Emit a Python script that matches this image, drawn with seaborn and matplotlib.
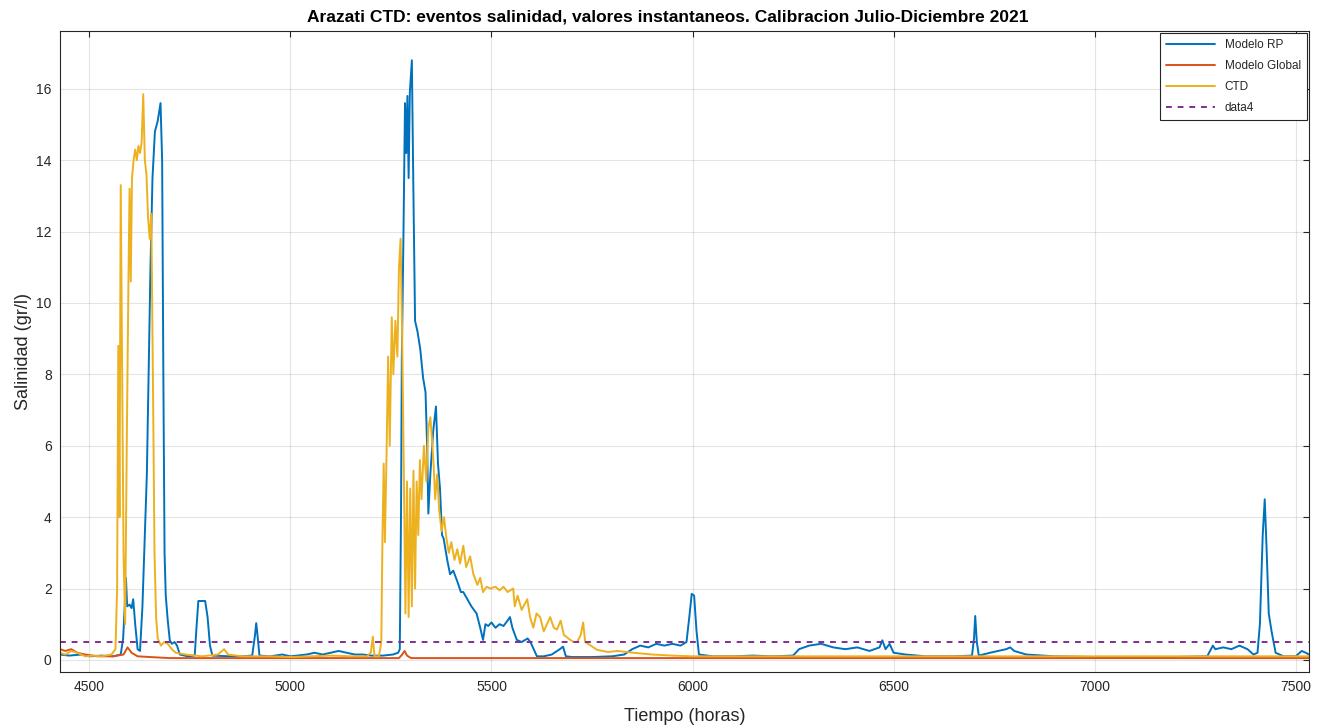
import numpy as np
import pandas as pd
import matplotlib
matplotlib.use("Agg")
import matplotlib.pyplot as plt
import seaborn as sns

# ---- Modelo RP (hours, g/l) ----
rp_t = [4427, 4450, 4480, 4500, 4530, 4560, 4578, 4584, 4588, 4591, 4594, 4600, 4605, 4609,
        4614, 4620, 4626, 4632, 4638, 4643, 4648, 4652, 4657, 4663, 4670, 4677, 4681, 4684,
        4687, 4690, 4695, 4700, 4705, 4712, 4718, 4725, 4745, 4762, 4767, 4771, 4788, 4794,
        4800, 4806, 4850, 4880, 4905, 4912, 4915, 4919, 4923, 4950, 4980, 5000, 5040, 5060,
        5080, 5100, 5120, 5140, 5160, 5180, 5200, 5230, 5255, 5268, 5272, 5275, 5277, 5281,
        5285, 5288, 5291, 5294, 5297, 5302, 5306, 5310, 5316, 5323, 5330, 5336, 5340, 5343,
        5348, 5355, 5362, 5367, 5372, 5377, 5381, 5390, 5397, 5405, 5415, 5424, 5430, 5440,
        5450, 5463, 5472, 5479, 5485, 5492, 5500, 5510, 5520, 5530, 5540, 5546, 5552, 5563,
        5575, 5590, 5597, 5605, 5613, 5630, 5650, 5670, 5678, 5685, 5700, 5750, 5800, 5830,
        5850, 5870, 5890, 5910, 5930, 5950, 5970, 5985, 5992, 5998, 6004, 6010, 6016, 6050,
        6100, 6150, 6200, 6250, 6265, 6290, 6320, 6350, 6380, 6410, 6440, 6465, 6472, 6480,
        6490, 6500, 6530, 6580, 6650, 6695, 6700, 6703, 6707, 6712, 6740, 6760, 6780, 6790,
        6800, 6830, 6900, 7000, 7100, 7200, 7280, 7294, 7300, 7320, 7340, 7360, 7380, 7395,
        7405, 7411, 7418, 7423, 7428, 7433, 7440, 7450, 7470, 7500, 7515, 7525, 7533]
rp_v = [0.15, 0.12, 0.15, 0.10, 0.12, 0.10, 0.15, 0.6, 1.5, 2.3, 1.5, 1.55, 1.45, 1.7,
        1.0, 0.3, 0.25, 1.5, 3.5, 5.2, 8.4, 11.0, 13.5, 14.8, 15.1, 15.6, 14.0, 8.0,
        3.0, 1.8, 1.1, 0.55, 0.45, 0.5, 0.4, 0.15, 0.10, 0.12, 1.0, 1.65, 1.65, 1.2,
        0.4, 0.12, 0.10, 0.10, 0.12, 0.7, 1.03, 0.6, 0.12, 0.10, 0.15, 0.10, 0.15, 0.2,
        0.15, 0.2, 0.25, 0.2, 0.15, 0.15, 0.12, 0.12, 0.15, 0.2, 0.3, 4.0, 8.4, 11.8,
        15.6, 14.2, 15.8, 13.5, 15.9, 16.8, 13.0, 9.5, 9.2, 8.7, 7.9, 7.5, 6.0, 4.1,
        5.2, 6.4, 7.1, 5.5, 4.8, 3.5, 3.4, 2.8, 2.4, 2.5, 2.2, 1.9, 1.9, 1.7,
        1.5, 1.3, 0.9, 0.56, 1.0, 0.95, 1.05, 0.9, 1.0, 0.95, 1.1, 1.2, 0.9, 0.56,
        0.5, 0.6, 0.5, 0.3, 0.10, 0.10, 0.15, 0.3, 0.37, 0.10, 0.08, 0.08, 0.10, 0.15,
        0.3, 0.4, 0.35, 0.45, 0.4, 0.45, 0.4, 0.5, 1.2, 1.85, 1.8, 0.8, 0.15, 0.10,
        0.10, 0.12, 0.10, 0.12, 0.3, 0.4, 0.45, 0.35, 0.3, 0.35, 0.25, 0.35, 0.55, 0.3,
        0.45, 0.2, 0.15, 0.10, 0.10, 0.12, 0.6, 1.23, 0.5, 0.12, 0.2, 0.25, 0.3, 0.35,
        0.25, 0.15, 0.10, 0.08, 0.08, 0.08, 0.10, 0.4, 0.3, 0.35, 0.3, 0.4, 0.3, 0.15,
        0.2, 1.0, 3.5, 4.5, 3.0, 1.3, 0.8, 0.2, 0.10, 0.10, 0.25, 0.2, 0.15]

# ---- Modelo Global ----
gl_t = [4427, 4440, 4455, 4470, 4490, 4520, 4560, 4585, 4595, 4605, 4620, 4650, 4700,
        4800, 5000, 5270, 5278, 5284, 5290, 5300, 5500, 6000, 6500, 7000, 7533]
gl_v = [0.3, 0.25, 0.3, 0.2, 0.15, 0.10, 0.10, 0.15, 0.35, 0.2, 0.10, 0.08, 0.05,
        0.05, 0.05, 0.05, 0.15, 0.25, 0.12, 0.05, 0.05, 0.05, 0.05, 0.05, 0.05]

# ---- CTD measurements ----
ctd_t = [4427, 4440, 4455, 4470, 4490, 4510, 4530, 4555, 4565, 4569, 4572, 4575, 4578, 4581,
         4585, 4589, 4593, 4597, 4600, 4603, 4606, 4610, 4614, 4618, 4622, 4626, 4630, 4634,
         4638, 4642, 4646, 4650, 4654, 4658, 4662, 4666, 4670, 4678, 4686, 4695, 4705, 4715,
         4740, 4780, 4820, 4835, 4845, 4880, 4950, 5000, 5050, 5100, 5150, 5190, 5200, 5205,
         5209, 5220, 5226, 5229, 5232, 5235, 5239, 5243, 5247, 5252, 5256, 5261, 5266, 5270,
         5274, 5278, 5282, 5286, 5290, 5294, 5298, 5302, 5306, 5310, 5314, 5318, 5322, 5326,
         5332, 5338, 5343, 5348, 5352, 5356, 5360, 5365, 5370, 5376, 5382, 5388, 5394, 5400,
         5408, 5415, 5422, 5430, 5437, 5447, 5455, 5465, 5472, 5479, 5488, 5497, 5510, 5520,
         5530, 5540, 5554, 5558, 5565, 5575, 5589, 5596, 5604, 5612, 5621, 5630, 5646, 5655,
         5663, 5672, 5680, 5696, 5705, 5713, 5722, 5728, 5733, 5740, 5763, 5790, 5813, 5853,
         5900, 5950, 6000, 6200, 6400, 6600, 6800, 7000, 7200, 7400, 7533]
ctd_v = [0.2, 0.15, 0.25, 0.2, 0.10, 0.12, 0.10, 0.15, 0.3, 2.0, 8.8, 4.0, 13.3, 9.0,
         3.0, 1.0, 6.0, 10.4, 13.2, 10.6, 13.5, 14.0, 14.3, 14.0, 14.4, 14.2, 14.5, 15.85,
         14.0, 13.6, 12.4, 11.8, 12.5, 8.0, 3.0, 1.2, 0.6, 0.4, 0.5, 0.45, 0.3, 0.2,
         0.15, 0.10, 0.15, 0.3, 0.15, 0.10, 0.10, 0.08, 0.10, 0.12, 0.10, 0.10, 0.2, 0.65,
         0.10, 0.10, 0.5, 3.5, 5.5, 3.3, 5.7, 8.5, 6.0, 9.6, 8.0, 9.5, 8.5, 11.0,
         11.8, 9.0, 5.3, 1.3, 5.0, 1.2, 4.8, 1.5, 5.3, 2.0, 5.0, 3.5, 5.6, 4.5,
         6.0, 5.0, 6.5, 6.8, 6.2, 5.5, 4.5, 5.2, 4.2, 3.6, 4.0, 3.4, 3.0, 3.3,
         2.8, 3.1, 2.7, 3.2, 2.6, 2.9, 2.4, 2.1, 2.3, 1.9, 2.05, 2.0, 2.05, 1.95,
         2.05, 1.9, 2.0, 1.5, 1.8, 1.4, 1.7, 1.2, 0.9, 1.3, 1.2, 0.8, 1.2, 0.9,
         0.85, 1.1, 0.7, 0.56, 0.5, 0.5, 0.7, 1.05, 0.5, 0.45, 0.28, 0.22, 0.25, 0.2,
         0.15, 0.12, 0.10, 0.10, 0.10, 0.10, 0.10, 0.10, 0.10, 0.10, 0.10]

# ---- reference threshold ----
threshold = 0.5

series_names = ["Modelo RP", "Modelo Global", "CTD"]
series_colors = ["#0072BD", "#D95319", "#EDB120"]

df = pd.concat([
    pd.DataFrame({"t": rp_t, "v": rp_v, "serie": series_names[0]}),
    pd.DataFrame({"t": gl_t, "v": gl_v, "serie": series_names[1]}),
    pd.DataFrame({"t": ctd_t, "v": ctd_v, "serie": series_names[2]}),
], ignore_index=True)

sns.set_theme(style="whitegrid")
plt.rcParams["font.family"] = ["Liberation Sans", "DejaVu Sans"]

fig = plt.figure(figsize=(13.26, 7.28), dpi=100)
ax = fig.add_axes([0.04525, 0.0769, 0.9419, 0.8805])

sns.lineplot(data=df, x="t", y="v", hue="serie", hue_order=series_names,
             palette=dict(zip(series_names, series_colors)), estimator=None,
             sort=False, linewidth=1.4, ax=ax)
ax.axhline(threshold, color="#7E2F8E", linestyle=(0, (3, 3)), linewidth=1.4, label="data4")

ax.set_xlim(4427, 7533)
ax.set_ylim(-0.34, 17.62)
ax.set_xticks([4500, 5000, 5500, 6000, 6500, 7000, 7500])
ax.set_yticks([0, 2, 4, 6, 8, 10, 12, 14, 16])

ax.set_facecolor("white")
ax.grid(True, color="#262626", alpha=0.12, linewidth=0.8)
for s in ax.spines.values():
    s.set_color("#262626")
    s.set_linewidth(0.8)
ax.tick_params(direction="in", top=True, right=True, length=4, width=0.8,
               color="#262626", labelcolor="#262626", labelsize=10, pad=6)

ax.set_title("Arazati CTD: eventos salinidad, valores instantaneos. Calibracion Julio-Diciembre 2021",
             fontsize=12.5, fontweight="bold", color="black", pad=7, x=0.487)
ax.set_xlabel("Tiempo (horas)", fontsize=13, color="#262626", labelpad=10)
ax.set_ylabel("Salinidad (gr/l)", fontsize=13, color="#262626", labelpad=3)

handles, labels = ax.get_legend_handles_labels()
leg = ax.legend(handles=handles, labels=labels, loc="upper right", fontsize=8.5,
                frameon=True, fancybox=False, framealpha=1, edgecolor="#262626",
                borderaxespad=0.2, handlelength=4.2, labelspacing=0.75,
                borderpad=0.5)
leg.get_frame().set_linewidth(0.8)

fig.savefig("out.png", dpi=100)
